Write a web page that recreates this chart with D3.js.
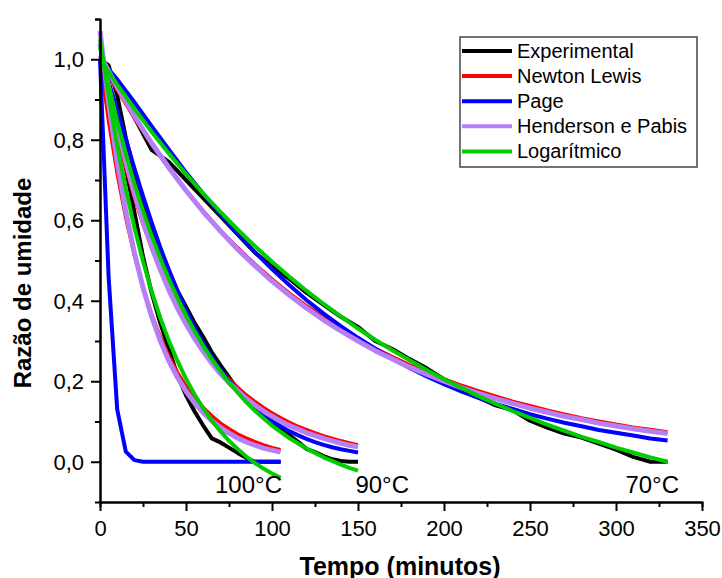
<!DOCTYPE html>
<html>
<head>
<meta charset="utf-8">
<script src="https://cdn.jsdelivr.net/npm/d3@7"></script>
<style>
  html, body { margin: 0; padding: 0; background: #fff; }
  svg { display: block; font-family: "Liberation Sans", Arial, sans-serif; }
</style>
</head>
<body>
<div id="page"></div>
<script>
// tempos (minutos)
const time100 = [0, 5, 10, 15, 20, 25, 30, 35, 40, 45, 50, 55, 60, 65, 70, 75, 80, 85, 90, 95, 100, 105];
const time90 = [0, 5, 10, 15, 20, 25, 30, 35, 40, 45, 50, 55, 60, 65, 70, 75, 80, 85, 90, 95, 100, 105, 110, 115, 120, 125, 130, 135, 140, 145, 150];
const time70 = [0, 10, 20, 30, 40, 50, 60, 70, 80, 90, 100, 110, 120, 130, 140, 150, 160, 170, 180, 190, 200, 210, 220, 230, 240, 250, 260, 270, 280, 290, 300, 310, 320, 330];

// 100 °C
const exp100 = [1.0, 0.93, 0.84, 0.73, 0.62, 0.51, 0.42, 0.345, 0.28, 0.215, 0.165, 0.125, 0.09, 0.058, 0.048, 0.035, 0.022, 0.01, 0.0, 0.0, 0.0, 0.0];
const newton100 = [1.0, 0.846, 0.716, 0.606, 0.513, 0.434, 0.367, 0.311, 0.263, 0.222, 0.188, 0.159, 0.135, 0.114, 0.096, 0.082, 0.069, 0.059, 0.050, 0.042, 0.035, 0.030];
const page100 = [1.0, 0.46, 0.13, 0.025, 0.004, 0.0, 0.0, 0.0, 0.0, 0.0, 0.0, 0.0, 0.0, 0.0, 0.0, 0.0, 0.0, 0.0, 0.0, 0.0, 0.0, 0.0];
const hp100 = [1.07, 0.893, 0.745, 0.622, 0.519, 0.433, 0.361, 0.301, 0.251, 0.210, 0.175, 0.146, 0.122, 0.102, 0.085, 0.071, 0.059, 0.049, 0.041, 0.034, 0.029, 0.024];
const log100 = [1.05, 0.910, 0.786, 0.678, 0.582, 0.498, 0.424, 0.358, 0.301, 0.251, 0.206, 0.167, 0.133, 0.102, 0.076, 0.052, 0.032, 0.013, -0.003, -0.017, -0.029, -0.040];

// 90 °C
const exp90 = [1.0, 0.985, 0.91, 0.805, 0.72, 0.645, 0.58, 0.525, 0.475, 0.425, 0.385, 0.345, 0.31, 0.272, 0.24, 0.21, 0.18, 0.155, 0.135, 0.115, 0.095, 0.08, 0.066, 0.05, 0.032, 0.024, 0.014, 0.006, 0.002, 0.0, 0.0];
const newton90 = [1.0, 0.900, 0.810, 0.729, 0.656, 0.590, 0.531, 0.478, 0.430, 0.387, 0.348, 0.313, 0.282, 0.254, 0.228, 0.206, 0.185, 0.166, 0.150, 0.135, 0.121, 0.109, 0.098, 0.088, 0.080, 0.072, 0.064, 0.058, 0.052, 0.047, 0.042];
const page90 = [1.0, 0.944, 0.874, 0.801, 0.729, 0.660, 0.595, 0.533, 0.477, 0.425, 0.377, 0.334, 0.295, 0.260, 0.229, 0.201, 0.176, 0.154, 0.134, 0.117, 0.101, 0.088, 0.076, 0.066, 0.057, 0.049, 0.042, 0.036, 0.031, 0.027, 0.023];
const hp90 = [1.04, 0.931, 0.833, 0.745, 0.667, 0.597, 0.534, 0.478, 0.427, 0.382, 0.342, 0.306, 0.274, 0.245, 0.219, 0.196, 0.176, 0.157, 0.141, 0.126, 0.113, 0.101, 0.090, 0.081, 0.072, 0.065, 0.058, 0.052, 0.046, 0.041, 0.037];
const log90 = [1.03, 0.934, 0.846, 0.765, 0.691, 0.624, 0.562, 0.506, 0.454, 0.407, 0.364, 0.324, 0.288, 0.255, 0.225, 0.197, 0.172, 0.148, 0.127, 0.108, 0.090, 0.074, 0.059, 0.046, 0.033, 0.022, 0.011, 0.002, -0.007, -0.015, -0.022];

// 70 °C
const exp70 = [1.0, 0.93, 0.855, 0.775, 0.745, 0.70, 0.655, 0.61, 0.565, 0.52, 0.485, 0.455, 0.42, 0.39, 0.36, 0.335, 0.30, 0.28, 0.255, 0.232, 0.205, 0.185, 0.16, 0.14, 0.128, 0.102, 0.085, 0.07, 0.06, 0.045, 0.03, 0.012, 0.0, 0.0];
const newton70 = [1.0, 0.924, 0.854, 0.789, 0.729, 0.674, 0.623, 0.575, 0.532, 0.491, 0.454, 0.419, 0.388, 0.358, 0.331, 0.306, 0.282, 0.261, 0.241, 0.223, 0.206, 0.190, 0.176, 0.163, 0.150, 0.139, 0.128, 0.118, 0.109, 0.101, 0.093, 0.086, 0.080, 0.074];
const page70 = [1.0, 0.950, 0.893, 0.834, 0.776, 0.719, 0.666, 0.615, 0.566, 0.521, 0.479, 0.439, 0.402, 0.368, 0.337, 0.308, 0.281, 0.256, 0.233, 0.212, 0.193, 0.175, 0.159, 0.144, 0.131, 0.118, 0.107, 0.097, 0.088, 0.079, 0.072, 0.065, 0.058, 0.053];
const hp70 = [1.010, 0.931, 0.859, 0.792, 0.731, 0.674, 0.621, 0.573, 0.528, 0.487, 0.449, 0.414, 0.382, 0.352, 0.325, 0.300, 0.276, 0.255, 0.235, 0.217, 0.200, 0.184, 0.170, 0.157, 0.145, 0.133, 0.123, 0.113, 0.105, 0.096, 0.089, 0.082, 0.076, 0.070];
const log70 = [1.0, 0.937, 0.877, 0.820, 0.766, 0.715, 0.666, 0.621, 0.577, 0.536, 0.497, 0.460, 0.425, 0.392, 0.361, 0.331, 0.303, 0.277, 0.252, 0.228, 0.205, 0.184, 0.163, 0.144, 0.126, 0.109, 0.092, 0.077, 0.062, 0.049, 0.035, 0.023, 0.011, 0.0];

const seriesNames = ['Experimental', 'Newton Lewis', 'Page', 'Henderson e Pabis', 'Logarítmico'];
const seriesColors = ['#000000', '#ff0000', '#0000ff', '#b77ff5', '#00cc00'];
const seriesWidths = [4, 3.5, 4, 5, 4];

const xTicks = [0, 50, 100, 150, 200, 250, 300, 350];
const xMinorTicks = [25, 75, 125, 175, 225, 275, 325];
const yTicks = [0.0, 0.2, 0.4, 0.6, 0.8, 1.0];
const yMinorTicks = [0.1, 0.3, 0.5, 0.7, 0.9, 1.1];
const tempLabels = ['100°C', '90°C', '70°C'];

const width = 722;
const height = 578;

const x = d3.scaleLinear().domain([0, 350]).range([100, 702]);
const y = d3.scaleLinear().domain([-0.1, 1.1]).range([502, 19]);

const ptLocale = d3.formatLocale({ decimal: ',', thousands: '.', grouping: [3], currency: ['R$', ''] });
const fmt = ptLocale.format('.1f');

const svg = d3.select('#page')
              .append('svg')
              .attr('width', width)
              .attr('height', height);

svg.append('rect')
   .attr('width', width)
   .attr('height', height)
   .attr('fill', '#fff');

// curvas: agrupadas por modelo (Experimental, Newton, Page, H&P, Log)
const groups = [
  [[time100, exp100], [time90, exp90], [time70, exp70]],
  [[time100, newton100], [time90, newton90], [time70, newton70]],
  [[time100, page100], [time90, page90], [time70, page70]],
  [[time100, hp100], [time90, hp90], [time70, hp70]],
  [[time100, log100], [time90, log90], [time70, log70]]
];

const line = d3.line()
               .x(d => x(d[0]))
               .y(d => y(d[1]));

groups.forEach((curves, i) => {
  svg.append('g')
     .selectAll('path')
     .data(curves.map(c => c[0].map((t, j) => [t, c[1][j]])))
     .enter()
     .append('path')
     .attr('d', line)
     .attr('fill', 'none')
     .attr('stroke', seriesColors[i])
     .attr('stroke-width', seriesWidths[i])
     .attr('stroke-linejoin', 'round');
});

// eixos
const xAxis = svg.append('g')
                 .attr('transform', `translate(0,${y(-0.1)})`)
                 .call(d3.axisBottom(x).tickValues(xTicks).tickSize(9).tickSizeOuter(0));
svg.append('g')
   .attr('transform', `translate(0,${y(-0.1)})`)
   .call(d3.axisBottom(x).tickValues(xMinorTicks).tickSize(5).tickFormat(''));

const yAxis = svg.append('g')
                 .attr('transform', `translate(${x(0)},0)`)
                 .call(d3.axisLeft(y).tickValues(yTicks).tickSize(9).tickSizeOuter(0).tickFormat(fmt));
svg.append('g')
   .attr('transform', `translate(${x(0)},0)`)
   .call(d3.axisLeft(y).tickValues(yMinorTicks).tickSize(5).tickFormat(''));

svg.selectAll('.domain, .tick line')
   .attr('stroke', '#000')
   .attr('stroke-width', 2);

xAxis.selectAll('text')
     .attr('y', 18)
     .attr('dy', '0.71em')
     .style('font-size', '22px')
     .style('font-family', '"Liberation Sans", Arial, sans-serif')
     .attr('fill', '#000');

yAxis.selectAll('text')
     .attr('x', -16)
     .attr('dy', '0.34em')
     .style('font-size', '22px')
     .style('font-family', '"Liberation Sans", Arial, sans-serif')
     .attr('fill', '#000');

// títulos dos eixos
svg.append('text')
   .attr('x', 400)
   .attr('y', 575)
   .attr('text-anchor', 'middle')
   .style('font-size', '25px')
   .style('font-weight', 'bold')
   .text('Tempo (minutos)');

svg.append('text')
   .attr('transform', 'translate(31,283) rotate(-90)')
   .attr('text-anchor', 'middle')
   .style('font-size', '24px')
   .style('font-weight', 'bold')
   .text('Razão de umidade');

// rótulos de temperatura (alinhados ao fim de cada curva)
svg.selectAll('.temp')
   .data(tempLabels)
   .enter()
   .append('text')
   .attr('class', 'temp')
   .attr('x', (d, i) => [282, 409, 679][i])
   .attr('y', 493)
   .attr('text-anchor', 'end')
   .style('font-size', '24px')
   .text(d => d);

// legenda
const legend = svg.append('g');

legend.append('rect')
      .attr('x', 460)
      .attr('y', 37)
      .attr('width', 237)
      .attr('height', 130)
      .attr('fill', '#fff')
      .attr('stroke', '#444')
      .attr('stroke-width', 1.5);

const lg = legend.selectAll('.item')
                 .data(seriesNames)
                 .enter()
                 .append('g')
                 .attr('class', 'item')
                 .attr('transform', (d, i) => `translate(0,${51 + i * 25.1})`);

lg.append('line')
  .attr('x1', 462)
  .attr('x2', 512)
  .attr('stroke', (d, i) => seriesColors[i])
  .attr('stroke-width', 4);

lg.append('text')
  .attr('x', 517)
  .attr('dy', '0.35em')
  .style('font-size', '20px')
  .text(d => d);
</script>
</body>
</html>
